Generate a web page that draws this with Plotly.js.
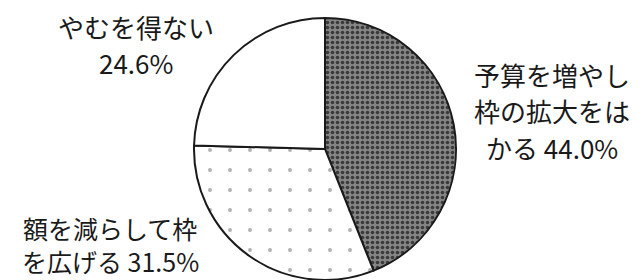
<!DOCTYPE html>
<html>
<head>
<meta charset="utf-8">
<script src="https://cdn.plot.ly/plotly-3.0.1.min.js"></script>
<style>html,body{margin:0;padding:0;background:#fff;}#chart{width:644px;height:280px;}</style>
</head>
<body>
<div id="chart"></div>
<script>
// data
const labels = ["予算を増やし枠の拡大をはかる", "額を減らして枠を広げる", "やむを得ない"];
const values = [44.0, 31.5, 24.6];
// label lines as printed in the chart (value appended to last line)
const labelLines = [["予算を増やし", "枠の拡大をは", "かる "], ["額を減らして枠", "を広げる "], ["やむを得ない", ""]];

const patterns = [
  {shape: ".", bgcolor: "#858585", fgcolor: "#3a3a3a", size: 5, solidity: 0.4},
  {shape: ".", bgcolor: "#ffffff", fgcolor: "#b0b0b0", size: 20, solidity: 0.03},
  {shape: "", bgcolor: "#ffffff"}
];
// label placement (pixels): centre x and y of each line, font size
const annX = [552, 110, 136];
const annY = [[75, 111, 147], [228, 261], [27, 62]];
const annSize = [26, 25, 26];

const W = 644, H = 280;
const annotations = [];
labels.forEach((l, i) => {
  const lines = labelLines[i].slice();
  lines[lines.length - 1] += values[i].toFixed(1) + "%";
  lines.forEach((t, k) => {
    annotations.push({
      text: t,
      x: annX[i] / W, y: 1 - annY[i][k] / H,
      xref: "paper", yref: "paper", showarrow: false,
      xanchor: "center", yanchor: "middle", align: "center",
      borderpad: 0,
      font: {family: "Noto Sans CJK JP", size: annSize[i], color: "#1a1a1a"}
    });
  });
});

const trace = {
  type: "pie",
  labels: labels,
  values: values,
  sort: false,
  direction: "clockwise",
  rotation: 0,
  textinfo: "none",
  hoverinfo: "none",
  showlegend: false,
  domain: {x: [194 / W, 456 / W], y: [0, 262 / H]},
  marker: {
    colors: ["#858585", "#ffffff", "#ffffff"],
    pattern: {
      shape: patterns.map(p => p.shape),
      bgcolor: patterns.map(p => p.bgcolor),
      fgcolor: patterns.map(p => p.fgcolor || "#000"),
      size: patterns.map(p => p.size || 8),
      solidity: patterns.map(p => p.solidity || 0.3),
      fillmode: "replace"
    },
    line: {color: "#1a1a1a", width: 2}
  }
};

Plotly.newPlot("chart", [trace], {
  width: W, height: H,
  margin: {l: 0, r: 0, t: 0, b: 0},
  paper_bgcolor: "#fff",
  annotations: annotations
}, {staticPlot: true});
</script>
</body>
</html>
